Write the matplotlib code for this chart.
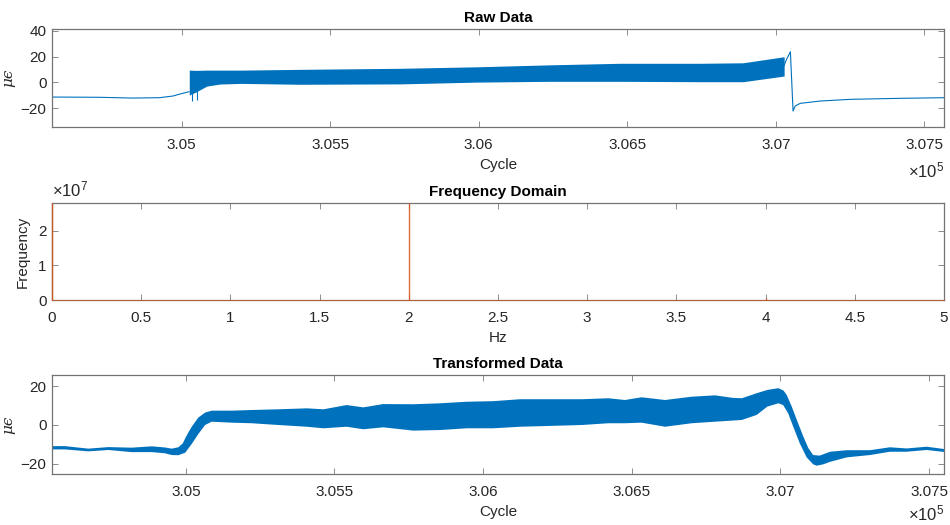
import numpy as np
import matplotlib
matplotlib.use('Agg')
import matplotlib.pyplot as plt
from matplotlib.ticker import FuncFormatter, FixedLocator

plt.rcParams['font.family'] = ['Liberation Sans', 'DejaVu Sans']
plt.rcParams['mathtext.fontset'] = 'custom'
plt.rcParams['mathtext.rm'] = 'Liberation Sans'
plt.rcParams['mathtext.it'] = 'Liberation Sans:italic'

# raw data: quiet baseline before the burst
raw_base_cycle = [304563, 304725, 304836, 304927, 304971, 305004, 305025]
raw_base_val = [-11.4, -11.6, -12.2, -11.9, -10.6, -8.5, -7.3]

# raw data: envelope of the loaded (oscillating) part
raw_burst_cycle = [305026, 305050, 305085, 305130, 305200, 305398, 305735, 305998, 306240, 306476, 306745, 306890, 307028]
raw_burst_upper = [9.5, 9.3, 9.5, 9.5, 9.5, 10.1, 10.9, 12.1, 13.6, 14.8, 14.8, 15.2, 19.9]
raw_burst_lower = [-9.9, -7.3, -2.9, -1.3, -0.8, -1.5, -1.2, 0.2, 0.8, 0.8, 0.5, 0.5, 4.9]

# raw data: single spikes just after the start
raw_spike_cycle = [305035, 305052]
raw_spike_low = [-14.5, -13.5]
raw_spike_high = [-6.0, -5.0]

# raw data: unloading part
raw_tail_cycle = [307028, 307035, 307049, 307058, 307065, 307082, 307149, 307250, 307418, 307566]
raw_tail_val = [13.0, 17.3, 23.8, -22.3, -18.4, -16.3, -14.5, -13.2, -12.4, -11.9]

# frequency domain
freq_peak_hz = [0.0, 2.0, 4.0]
freq_peak_mag = [2.8e7, 2.8e7, 0.07e7]

# transformed data: upper envelope
tr_up_cycle = [304550, 304594, 304672, 304740, 304818, 304886, 304930, 304953, 304975, 304990,
               304998, 305010, 305020, 305042, 305065, 305087, 305155, 305222, 305311, 305407,
               305463, 305541, 305597, 305664, 305765, 305855, 305945, 306034, 306124, 306219,
               306332, 306421, 306477, 306533, 306612, 306701, 306780, 306840, 306870, 306920,
               306956, 306993, 307010, 307021, 307038, 307055, 307077, 307094, 307110, 307132,
               307167, 307223, 307301, 307368, 307424, 307492, 307550]
tr_up_val = [-10.9, -10.9, -12.2, -11.4, -11.7, -11.0, -11.6, -12.2, -11.5, -9.5,
             -6.9, -3.5, -0.9, 3.8, 6.4, 7.4, 7.4, 7.75, 8.1, 8.6,
             8.1, 10.3, 9.1, 10.8, 10.7, 11.2, 12.0, 12.3, 13.3, 13.3,
             13.3, 13.8, 12.9, 14.3, 12.9, 14.6, 15.3, 14.0, 13.8, 16.4,
             18.1, 19.0, 17.8, 15.5, 9.5, 2.6, -6.0, -12.0, -15.5, -15.8,
             -13.8, -13.0, -13.0, -11.5, -12.1, -11.2, -12.4]

# transformed data: lower envelope
tr_low_cycle = [304550, 304594, 304672, 304740, 304818, 304886, 304930, 304953, 304975, 304998,
                305020, 305042, 305065, 305087, 305155, 305222, 305311, 305407, 305463, 305541,
                305597, 305664, 305765, 305855, 305945, 306034, 306124, 306219, 306332, 306421,
                306477, 306533, 306612, 306701, 306780, 306870, 306920, 306956, 306993, 307009,
                307026, 307043, 307065, 307088, 307110, 307122, 307144, 307167, 307223, 307301,
                307368, 307424, 307492, 307550]
tr_low_val = [-12.6, -12.6, -13.6, -12.9, -14.0, -14.0, -14.6, -15.5, -15.6, -14.3,
              -9.8, -4.7, 0.0, 1.7, 1.2, 0.9, 0.0, -0.9, -1.7, -0.9,
              -2.2, -1.2, -2.9, -2.6, -1.7, -1.7, -0.9, -0.5, 0.0, 0.9,
              0.9, 1.2, -0.9, 0.9, 1.7, 2.6, 5.2, 9.5, 11.2, 10.3,
              6.0, -0.9, -9.5, -16.7, -20.3, -21.0, -20.3, -19.0, -16.7, -15.5,
              -13.8, -13.8, -12.9, -13.9]

cycle_ticks = [305000, 305500, 306000, 306500, 307000, 307500]
blue = '#0072BD'
orange = '#D95319'
txt = '#262626'

fig = plt.figure(figsize=(9.5, 5.25), dpi=100)
ax1 = fig.add_axes([0.0547, 0.758, 0.939, 0.1867])
ax2 = fig.add_axes([0.0547, 0.428, 0.939, 0.1859])
ax3 = fig.add_axes([0.0547, 0.0971, 0.939, 0.1886])

for ax in (ax1, ax2, ax3):
    for s in ax.spines.values():
        s.set_color('#737373')
        s.set_linewidth(0.9)
    ax.tick_params(direction='in', length=4, width=0.7, color='#8c8c8c',
                   top=True, right=True, labelsize=11, labelcolor=txt)
    ax.tick_params(axis='x', pad=8)
    ax.tick_params(axis='y', pad=4)

# --- raw data
ax1.plot(raw_base_cycle, raw_base_val, color=blue, lw=0.8)
ax1.fill_between(raw_burst_cycle, raw_burst_lower, raw_burst_upper, color=blue, lw=0)
ax1.vlines(raw_spike_cycle, raw_spike_low, raw_spike_high, color=blue, lw=0.8)
ax1.plot(raw_tail_cycle, raw_tail_val, color=blue, lw=0.8)
ax1.set_xlim(304564, 307566)
ax1.set_ylim(-34.7, 41.4)
ax1.set_yticks([-20, 0, 20, 40])
ax1.xaxis.set_major_locator(FixedLocator(cycle_ticks))
ax1.xaxis.set_major_formatter(FuncFormatter(lambda v, p: f'{v/1e5:g}'))
ax1.set_title('Raw Data', fontsize=11, fontweight='bold', color='black', pad=5)
ax1.set_xlabel('Cycle', fontsize=11, color=txt, labelpad=4)
ax1.set_ylabel('μϵ', fontsize=11, color=txt, family=['DejaVu Serif'], style='italic')
ax1.yaxis.set_label_coords(-0.041, 0.5)
ax1.text(1.0, -0.44, '×10$^{5}$', transform=ax1.transAxes, ha='right', va='center', fontsize=12, color=txt)

# --- frequency domain
ax2.axhline(0, color=orange, lw=0.6, alpha=0.8, zorder=3, clip_on=False)
ax2.vlines(freq_peak_hz, 0, freq_peak_mag, color=orange, lw=1.0, alpha=0.85, zorder=3, clip_on=False)
ax2.set_xlim(0, 5)
ax2.set_ylim(0, 2.8e7)
ax2.set_xticks(np.arange(0, 5.01, 0.5))
ax2.xaxis.set_major_formatter(FuncFormatter(lambda v, p: f'{v:g}'))
ax2.set_yticks([0, 1e7, 2e7])
ax2.yaxis.set_major_formatter(FuncFormatter(lambda v, p: f'{v/1e7:g}'))
ax2.set_title('Frequency Domain', fontsize=11, fontweight='bold', color='black', pad=5)
ax2.set_xlabel('Hz', fontsize=11, color=txt, labelpad=4)
ax2.set_ylabel('Frequency', fontsize=11, color=txt)
ax2.yaxis.set_label_coords(-0.025, 0.5)
ax2.text(0.0, 1.03, '×10$^{7}$', transform=ax2.transAxes, ha='left', va='bottom', fontsize=12, color=txt)

# --- transformed data
ax3.fill(tr_up_cycle + tr_low_cycle[::-1], tr_up_val + tr_low_val[::-1], color=blue, lw=0)
ax3.set_xlim(304550, 307550)
ax3.set_ylim(-25.3, 25.8)
ax3.set_yticks([-20, 0, 20])
ax3.xaxis.set_major_locator(FixedLocator(cycle_ticks))
ax3.xaxis.set_major_formatter(FuncFormatter(lambda v, p: f'{v/1e5:g}'))
ax3.set_title('Transformed Data', fontsize=11, fontweight='bold', color='black', pad=5)
ax3.set_xlabel('Cycle', fontsize=11, color=txt, labelpad=4)
ax3.set_ylabel('μϵ', fontsize=11, color=txt, family=['DejaVu Serif'], style='italic')
ax3.yaxis.set_label_coords(-0.041, 0.5)
ax3.text(1.0, -0.40, '×10$^{5}$', transform=ax3.transAxes, ha='right', va='center', fontsize=12, color=txt)

fig.savefig('out.png', dpi=100)
